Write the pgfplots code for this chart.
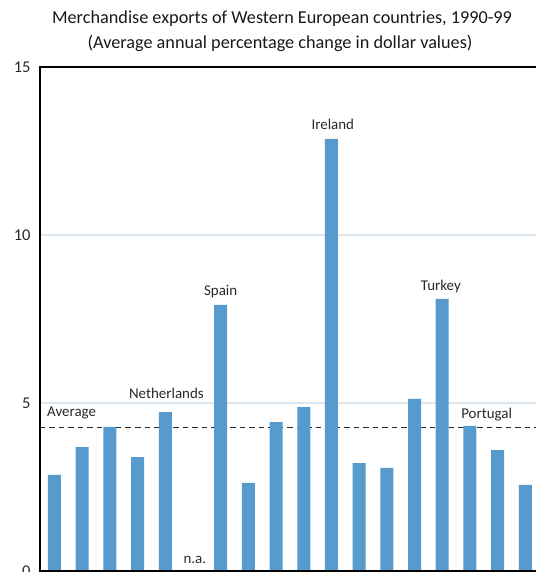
\documentclass[border=0pt]{standalone}
\usepackage{pgfplots}
\pgfplotsset{compat=1.18}
\usepackage{fontspec}
\setmainfont{Carlito}
\definecolor{barblue}{RGB}{86,154,206}
\definecolor{gridc}{RGB}{220,230,240}
\definecolor{txt}{RGB}{40,40,40}
\begin{document}
\begin{tikzpicture}
\begin{axis}[
  at={(0,0)}, anchor=south west,
  width=500bp, height=504bp, scale only axis,
  xmin=-0.523, xmax=17.53, ymin=0, ymax=15,
  axis line style={draw=none},
  ytick={0,5,10,15}, xtick=\empty,
  ymajorgrids, grid style={gridc, line width=1.6bp},
  major tick length=0pt,
  /pgf/number format/assume math mode=true,
  yticklabel style={font=\fontsize{16.5}{16.5}\selectfont, text=txt, xshift=-6bp},
  clip=false,
]
\addplot[sharp plot, no marks, dash pattern=on 5.5bp off 4bp, line width=1.8bp, txt, forget plot]
 coordinates {(-0.523,4.27) (17.53,4.27)};
\addplot[ybar, bar width=13bp, bar shift=0pt, fill=barblue, draw=none] coordinates {
 (0,2.86) (1,3.69) (2,4.29) (3,3.39) (4,4.73) (6,7.92) (7,2.62) (8,4.43)
 (9,4.88) (10,12.86) (11,3.21) (12,3.07) (13,5.12) (14,8.10) (15,4.32)
 (16,3.60) (17,2.56)};
\draw[line width=2.6bp, black] (rel axis cs:1,0) -- (rel axis cs:0,0) -- (rel axis cs:0,1) -- (rel axis cs:1,1);
\begin{scope}[every node/.style={font=\fontsize{15}{15}\selectfont, text=txt, inner sep=0pt}]
\node at (axis cs:4.04,5.30) {Netherlands};
\node at (axis cs:6,8.33) {Spain};
\node at (axis cs:10.05,13.3) {Ireland};
\node at (axis cs:13.95,8.48) {Turkey};
\node[anchor=west] at (axis cs:14.68,4.64) {Portugal};
\node[anchor=west] at (axis cs:-0.27,4.70) {Average};
\node at (axis cs:5.07,0.33) {n.a.};
\end{scope}
\end{axis}
\node[font=\fontsize{18.3}{18.3}\selectfont, text=black!90] at (242bp,552bp) {Merchandise exports of Western European countries, 1990-99};
\node[font=\fontsize{18.3}{18.3}\selectfont, text=black!90] at (240bp,528bp) {(Average annual percentage change in dollar values)};
\pgfresetboundingbox
\path[use as bounding box] (-40bp,-1bp) rectangle (496bp,571bp);
\end{tikzpicture}
\end{document}
